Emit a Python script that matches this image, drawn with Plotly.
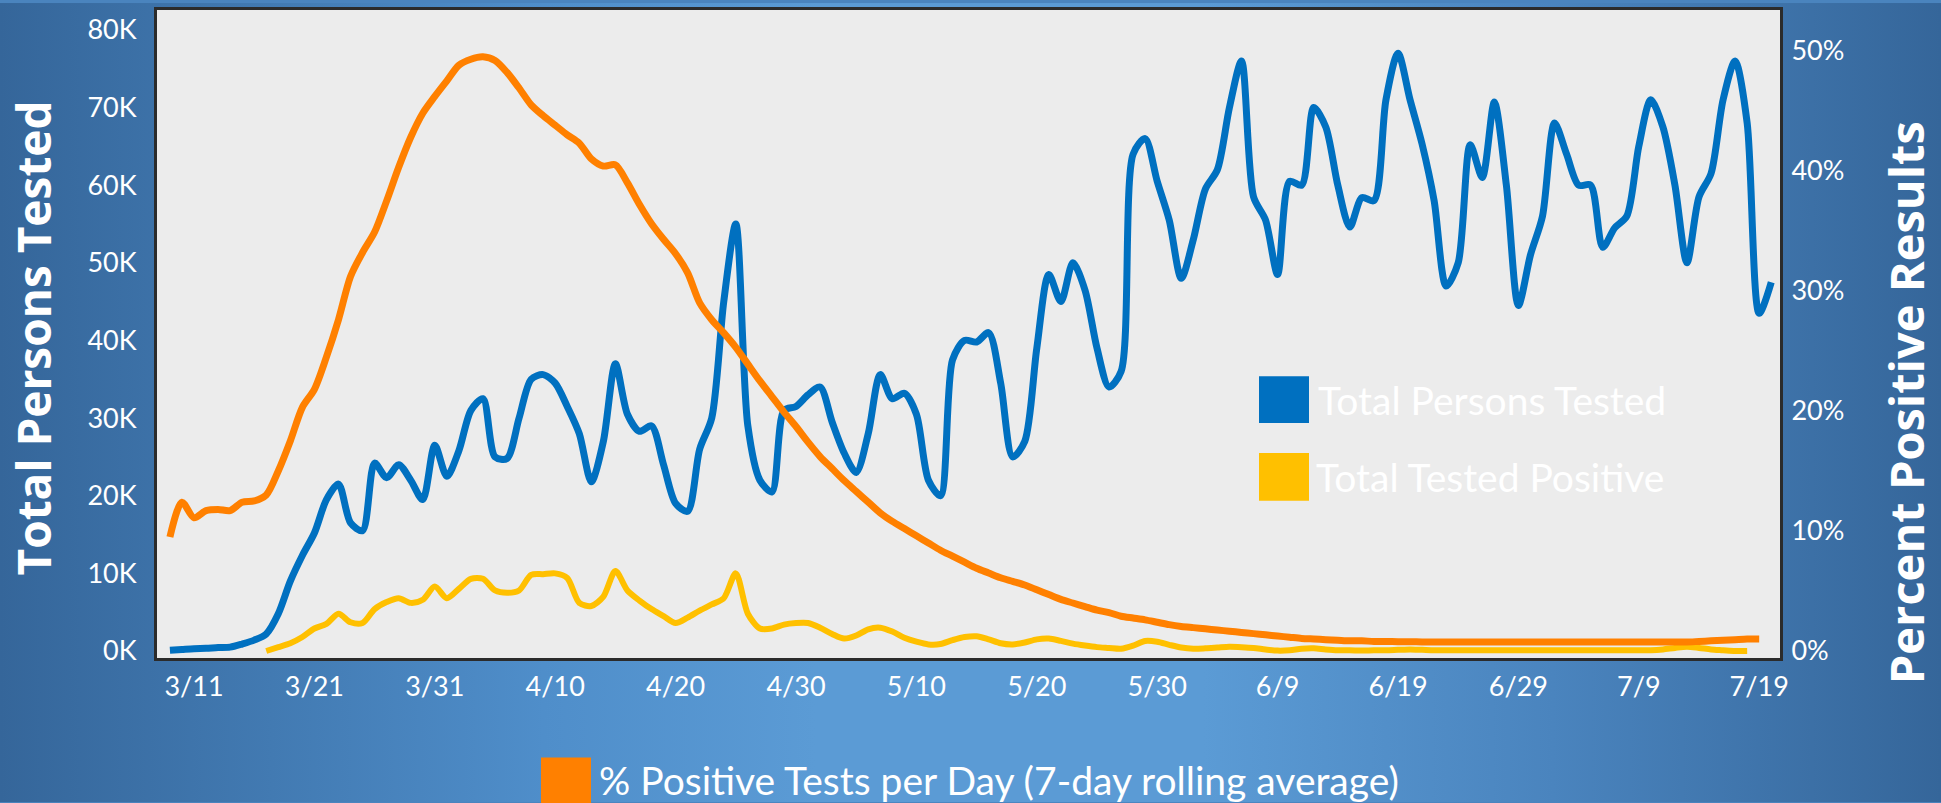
import base64
import pandas as pd
import plotly.graph_objects as go

# ---------------- data ----------------
tested_start = "2020-03-09"
tested_k = [0.1, 0.2, 0.3, 0.35, 0.45, 0.5, 0.9, 1.4, 2.2, 4.8,
            9.0, 12.3, 15.2, 19.5, 21.5, 16.5, 15.5, 24.2, 22.3, 24.0,
            22.0, 19.5, 26.5, 22.5, 25.8, 31.0, 32.5, 25.0, 24.8, 30.0,
            35.0, 35.6, 34.5, 31.5, 28.0, 21.8, 27.0, 37.0, 30.5, 28.3,
            29.0, 24.0, 19.0, 18.0, 26.0, 30.0, 45.0, 55.0, 29.0, 22.0,
            20.5, 31.0, 31.5, 33.0, 34.0, 29.5, 25.5, 23.0, 28.0, 35.6,
            32.5, 33.2, 30.5, 22.0, 20.0, 37.5, 40.0, 39.8, 41.0, 34.5,
            25.0, 27.0, 39.0, 48.5, 45.0, 50.0, 46.5, 39.0, 34.0, 36.0,
            64.0, 66.0, 60.5, 55.5, 48.0, 53.0, 59.5, 62.0, 70.0, 76.0,
            58.5, 55.5, 48.5, 60.5, 60.0, 70.0, 67.5, 60.0, 54.6, 58.4,
            58.0, 71.0, 77.0, 71.0, 65.3, 58.0, 47.0, 50.0, 65.2, 61.0,
            70.7, 60.0, 44.5, 51.0, 56.0, 68.0, 64.0, 60.0, 60.0, 52.0,
            54.5, 56.0, 65.0, 71.0, 67.5, 60.0, 50.0, 58.5, 61.5, 71.0,
            76.0, 68.0, 43.5, 47.5]

positive_start = "2020-03-17"
positive_k = [0.0, 0.5, 1.0, 1.8, 2.9, 3.5, 4.8, 3.7, 3.6, 5.4,
              6.3, 6.8, 6.2, 6.6, 8.3, 6.8, 8.0, 9.3, 9.3, 7.8,
              7.5, 7.8, 9.8, 9.9, 10.0, 9.4, 6.2, 5.8, 7.0, 10.3,
              7.8, 6.5, 5.4, 4.5, 3.6, 4.3, 5.2, 6.0, 6.8, 10.0,
              4.8, 2.9, 2.9, 3.4, 3.6, 3.6, 3.0, 2.2, 1.6, 2.0,
              2.8, 3.0, 2.5, 1.7, 1.2, 0.85, 0.9, 1.4, 1.8, 1.9,
              1.5, 1.0, 0.85, 1.1, 1.5, 1.6, 1.3, 0.95, 0.7, 0.5,
              0.4, 0.3, 0.7, 1.3, 1.2, 0.8, 0.45, 0.3, 0.35, 0.45,
              0.55, 0.5, 0.4, 0.2, 0.05, 0.1, 0.3, 0.35, 0.2, 0.1,
              0.1, 0.05, 0.1, 0.1, 0.15, 0.2, 0.15, 0.1, 0.1, 0.1,
              0.1, 0.1, 0.1, 0.1, 0.1, 0.1, 0.1, 0.1, 0.1, 0.1,
              0.1, 0.1, 0.1, 0.1, 0.1, 0.1, 0.2, 0.4, 0.55, 0.4,
              0.2, 0.1, 0.0, 0.0]

pct_start = "2020-03-09"
pct_positive = [9.5, 12.4, 11.1, 11.7, 11.8, 11.7, 12.4, 12.5, 13.0, 15.0,
                17.5, 20.3, 21.8, 24.5, 27.6, 31.2, 33.2, 34.9, 37.5, 40.3,
                42.8, 44.8, 46.2, 47.5, 48.8, 49.3, 49.5, 49.2, 48.2, 46.9,
                45.5, 44.6, 43.8, 43.0, 42.3, 41.0, 40.4, 40.5, 39.0, 37.2,
                35.6, 34.3, 33.1, 31.5, 29.0, 27.6, 26.5, 25.3, 23.9, 22.5,
                21.2, 19.9, 18.7, 17.4, 16.2, 15.2, 14.2, 13.3, 12.4, 11.5,
                10.8, 10.2, 9.6, 9.0, 8.4, 7.9, 7.4, 6.9, 6.5, 6.1,
                5.8, 5.5, 5.1, 4.7, 4.3, 4.0, 3.7, 3.4, 3.2, 2.9,
                2.75, 2.6, 2.4, 2.2, 2.05, 1.95, 1.85, 1.75, 1.65, 1.55,
                1.45, 1.35, 1.25, 1.15, 1.05, 1.0, 0.95, 0.9, 0.85, 0.85,
                0.8, 0.8, 0.78, 0.77, 0.76, 0.75, 0.75, 0.75, 0.75, 0.75,
                0.75, 0.75, 0.75, 0.75, 0.75, 0.75, 0.75, 0.75, 0.75, 0.75,
                0.75, 0.75, 0.75, 0.75, 0.75, 0.75, 0.75, 0.8, 0.85, 0.9,
                0.95, 1.0, 1.0]

left_ticks = [0, 10, 20, 30, 40, 50, 60, 70, 80]
left_labels = [f"{v}K" for v in left_ticks]
right_ticks = [0, 10, 20, 30, 40, 50]
right_labels = [f"{v}%" for v in right_ticks]

name_tested = "Total Persons Tested"
name_positive = "Total Tested Positive"
name_pct = "% Positive Tests per Day (7-day rolling average)"

# ---------------- styling ----------------
W, H = 1941, 803
L, R, T, B = 157, 161, 7, 145
PW, PH = W - L - R, H - T - B

BLUE, YELLOW, ORANGE = "#0070C0", "#FFC000", "#FF8000"
TICK_FONT = dict(family="Lato, Open Sans, sans-serif", size=27, color="white")
LEG_FONT = dict(family="Lato, Open Sans, sans-serif", size=39, color="white")


def px(xp):
    return (xp - L) / PW


def py(yp):
    return (H - B - yp) / PH


x_tested = pd.date_range(tested_start, periods=len(tested_k), freq="D")
x_pos = pd.date_range(positive_start, periods=len(positive_k), freq="D")
x_pct = pd.date_range(pct_start, periods=len(pct_positive), freq="D")

fig = go.Figure()
fig.add_trace(go.Scatter(x=x_tested, y=tested_k, mode="lines", name=name_tested,
                         line=dict(color=BLUE, width=7, shape="spline", smoothing=0.8),
                         showlegend=False))
fig.add_trace(go.Scatter(x=x_pos, y=positive_k, mode="lines", name=name_positive,
                         line=dict(color=YELLOW, width=6, shape="spline", smoothing=0.8),
                         showlegend=False))
fig.add_trace(go.Scatter(x=x_pct, y=pct_positive, mode="lines", name=name_pct,
                         line=dict(color=ORANGE, width=7, shape="spline", smoothing=0.8),
                         yaxis="y2", showlegend=False))

# background gradient + light plot area
svg = (f'<svg xmlns="http://www.w3.org/2000/svg" width="{W}" height="{H}" '
       f'viewBox="0 0 {W} {H}" preserveAspectRatio="none"><defs>'
       '<linearGradient id="g" x1="0" y1="0" x2="1" y2="0">'
       '<stop offset="0" stop-color="#35669A"/>'
       '<stop offset="0.28" stop-color="#4F8ECA"/>'
       '<stop offset="0.42" stop-color="#5B9BD5"/>'
       '<stop offset="0.62" stop-color="#5B9BD5"/>'
       '<stop offset="0.80" stop-color="#4A84BE"/>'
       '<stop offset="1" stop-color="#35669A"/>'
       '</linearGradient></defs>'
       f'<rect x="0" y="0" width="{W}" height="{H}" fill="url(#g)"/>'
       f'<rect x="{L}" y="{T}" width="{PW}" height="{PH}" fill="#ECECEC"/></svg>')
src = "data:image/svg+xml;base64," + base64.b64encode(svg.encode()).decode()

shapes = [
    dict(type="rect", xref="paper", yref="paper", x0=px(1259), x1=px(1309),
         y0=py(422), y1=py(375), fillcolor=BLUE, line=dict(width=0)),
    dict(type="rect", xref="paper", yref="paper", x0=px(1259), x1=px(1309),
         y0=py(500), y1=py(452), fillcolor=YELLOW, line=dict(width=0)),
    dict(type="rect", xref="paper", yref="paper", x0=px(541), x1=px(591),
         y0=py(806), y1=py(758), fillcolor=ORANGE, line=dict(width=0)),
]

annotations = [
    dict(text="Total Persons Tested", xref="paper", yref="paper", x=px(33), y=py(337),
         textangle=-90, showarrow=False, xanchor="center", yanchor="middle",
         font=dict(family="Open Sans, sans-serif", size=46, color="white", weight="bold")),
    dict(text="Percent Positive Results", xref="paper", yref="paper", x=px(1906), y=py(402),
         textangle=-90, showarrow=False, xanchor="center", yanchor="middle",
         font=dict(family="Open Sans, sans-serif", size=47, color="white", weight="bold")),
    dict(text=name_tested, xref="paper", yref="paper", x=px(1316), y=py(399),
         showarrow=False, xanchor="left", yanchor="middle", font=LEG_FONT),
    dict(text=name_positive, xref="paper", yref="paper", x=px(1314), y=py(476),
         showarrow=False, xanchor="left", yanchor="middle", font=LEG_FONT),
    dict(text=name_pct, xref="paper", yref="paper", x=px(597), y=py(781),
         showarrow=False, xanchor="left", yanchor="middle", font=LEG_FONT),
]

x0 = pd.Timestamp("2020-03-11") - pd.Timedelta(days=(194 - L) / 12.04)
x1 = pd.Timestamp("2020-03-11") + pd.Timedelta(days=(W - R - 194) / 12.04)

fig.update_layout(
    width=W, height=H,
    margin=dict(l=L, r=R, t=T, b=B, pad=0),
    paper_bgcolor="#4A84BE",
    plot_bgcolor="#ECECEC",
    images=[dict(source=src, xref="paper", yref="paper", x=-L / PW, y=1 + T / PH,
                 sizex=W / PW, sizey=H / PH, sizing="stretch", xanchor="left",
                 yanchor="top", layer="below")],
    shapes=shapes,
    annotations=annotations,
    showlegend=False,
    xaxis=dict(type="date", range=[x0, x1], tick0="2020-03-11", dtick=10 * 86400000,
               tickformat="%-m/%-d", tickfont=TICK_FONT, ticks="outside", ticklen=3,
               tickcolor="rgba(0,0,0,0)", showline=True, linecolor="#2B2B2B",
               linewidth=3, mirror=True, showgrid=False, zeroline=False),
    yaxis=dict(range=[-0.9, 82.56], tickmode="array", tickvals=left_ticks,
               ticktext=left_labels, tickfont=TICK_FONT, ticks="outside", ticklen=12,
               tickcolor="rgba(0,0,0,0)", showline=True, linecolor="#2B2B2B",
               linewidth=3, mirror=True, showgrid=False, zeroline=False),
    yaxis2=dict(range=[-0.58, 53.4], tickmode="array", tickvals=right_ticks,
                ticktext=right_labels, overlaying="y", side="right", tickfont=TICK_FONT,
                ticks="outside", ticklen=5, tickcolor="rgba(0,0,0,0)", showline=False,
                showgrid=False, zeroline=False),
)

fig.write_html("out.html", config={"displayModeBar": False},
               post_script="document.body.style.margin='0';document.body.style.overflow='hidden';")
